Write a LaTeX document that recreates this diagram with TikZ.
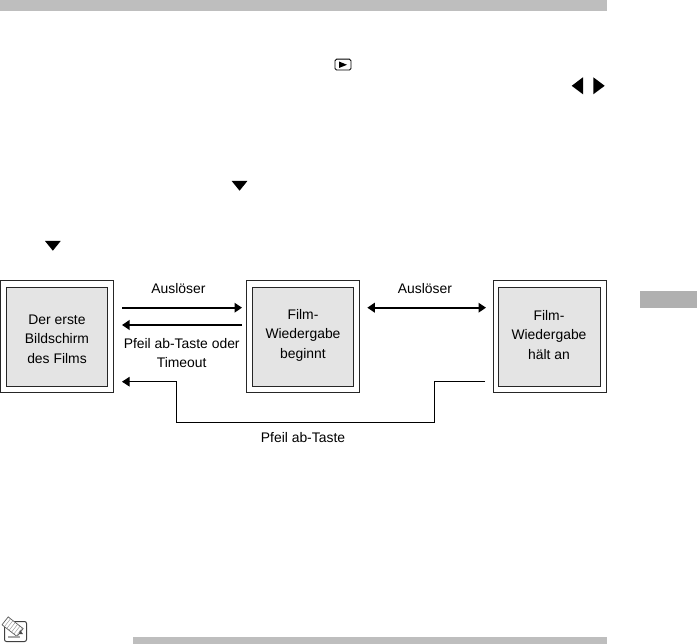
\documentclass[tikz,border=0pt]{standalone}
\usepackage{xcolor}
\usepackage{fontspec}
\setmainfont{Liberation Sans}
\usetikzlibrary{arrows.meta,positioning}
\definecolor{barfill}{HTML}{BEBEBE}
\definecolor{tabfill}{HTML}{B0B0B0}
\definecolor{screen}{HTML}{E4E4E4}

\tikzset{
  outerbox/.style={draw=black!85, line width=1pt, fill=white, minimum width=113pt, minimum height=112pt, inner sep=0},
  innerbox/.style={draw=black!85, line width=1pt, fill=screen, minimum width=101.5pt, minimum height=99.5pt, inner sep=0},
  boxtext/.style={align=center, font=\fontsize{13.9}{19.5}\selectfont, inner sep=0},
  label/.style={align=center, font=\fontsize{13.9}{19.5}\selectfont, inner sep=0},
  flow/.style={line width=2pt, -{Triangle[length=7.5pt,width=9.5pt]}},
  flowthin/.style={line width=1pt, -{Triangle[length=7.5pt,width=9.5pt]}},
}

\begin{document}
\begin{tikzpicture}[x=1pt, y=-1pt]
\useasboundingbox (0,0) rectangle (697,644);
% page furniture
\fill[barfill] (0,0) rectangle (607,11);
\fill[barfill] (133,637) rectangle (607,644);
\fill[tabfill] (640,291) rectangle (697,307.7);
% key glyphs of the missing body text
\draw[black, line width=0.9pt, rounded corners=1.5pt] (335,59.2) rectangle (351,70);
\fill[black] (339,61.5) -- (347,64.8) -- (339,68) -- cycle;
\fill[black] (583,77.3) -- (571.7,85.8) -- (583,94.3) -- cycle;
\fill[black] (593.3,77.3) -- (604.7,85.8) -- (593.3,94.3) -- cycle;
\foreach \x/\y in {231.7/181, 45/241} { \fill[black] (\x,\y) -- ++(15.7,0) -- ++(-7.85,9.7) -- cycle; }
% note icon, bottom left
\draw[black!75, line width=1pt, rounded corners=2pt] (4.5,621.5) rectangle (26.5,641.5);
\fill[white, rotate around={-38:(13,627)}] (3,622) rectangle (22,632);
\draw[black!65, line width=0.7pt, rotate around={-38:(13,627)}] (3,622) rectangle (22,632);
\foreach \t in {6,9,...,21} { \draw[black!45, rotate around={-38:(13,627)}] (\t,622) -- (\t,632); }
\fill[black!70] (20,630) -- (23,634) -- (19,634) -- cycle;
\fill[black!35] (8,636) rectangle (20,638);
% screens
\node[outerbox] (first) at (57,337) {};
\node[innerbox] (firstin) at (57,337) {};
\node[boxtext] (firsttxt) at (57,339) {Der erste\\Bildschirm\\des Films};
\node[outerbox] (play) at (303.2,337) {};
\node[innerbox] (playin) at (303.2,337) {};
\node[boxtext] (playtxt) at (303,335) {Film-\\Wiedergabe\\beginnt};
\node[outerbox] (halt) at (549.5,337) {};
\node[innerbox] (haltin) at (549.5,337) {};
\node[boxtext] (halttxt) at (549,335) {Film-\\Wiedergabe\\hält an};
% free ends of the arrows, they stop short of the boxes
\coordinate (a1) at (122,307.7);
\coordinate (a2) at (242,307.7);
\coordinate (b1) at (242,325);
\coordinate (b2) at (122,325);
\coordinate (c1) at (367.3,307.7);
\coordinate (c2) at (486,307.7);
\coordinate (d1) at (485,381.3);
\coordinate (d2) at (122,381.7);
\coordinate (e1) at (176.5,422.3);
\coordinate (e2) at (434.7,422.3);
\draw[flow] (a1) -- (a2);
\draw[flow] (b1) -- (b2);
\draw[flow, {Triangle[length=7.5pt,width=9.5pt]}-{Triangle[length=7.5pt,width=9.5pt]}] (c1) -- (c2);
\draw[flowthin] (d1) -- (e2 |- d1) -- (e2) -- (e1) -- (e1 |- d2) -- (d2);
% arrow labels
\node[label] (trig1) at (178.5,289) {Auslöser};
\node[label] (trig2) at (425,289) {Auslöser};
\node[label] (back) at (181.7,353) {Pfeil ab-Taste oder\\Timeout};
\node[label] (down) at (303,438) {Pfeil ab-Taste};
\end{tikzpicture}
\end{document}
